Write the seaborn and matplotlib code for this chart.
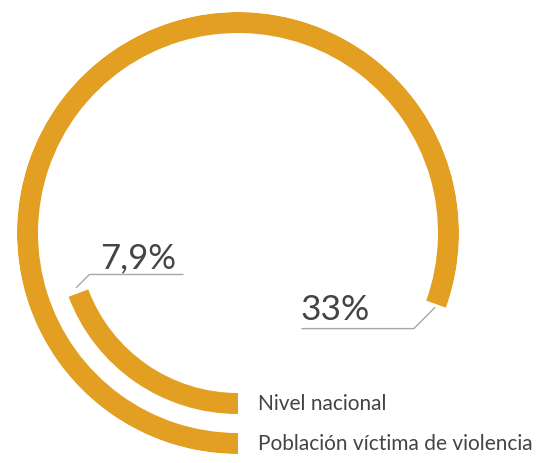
import numpy as np
import matplotlib.pyplot as plt
import seaborn as sns

# data
categories = ["Nivel nacional", "Población víctima de violencia"]
values = [7.9, 33]
value_labels = ["7,9%", "33%"]
scale_max = 41  # value that would close the full ring

sns.set_theme(style="white")
plt.rcParams['font.family'] = ['Lato', 'DejaVu Sans']

bar_color = "#E39F22"
text_color = "#444444"
line_color = "#a8a8a8"

W, H = 543, 463
fig = plt.figure(figsize=(W / 100, H / 100), dpi=100)
fig.patch.set_facecolor("white")

# ring centre and outer radius in pixels
cx, cy, R = 238, 233, 221
ax = fig.add_axes([(cx - R) / W, (H - cy - R) / H, 2 * R / W, 2 * R / H], projection='polar')
ax.set_theta_zero_location('S')
ax.set_theta_direction(-1)
ax.set_ylim(0, R)
radii = [170.5, 210.5]
thick = 21
angles = np.deg2rad(np.array(values) / scale_max * 360)
ax.barh(radii, angles, left=0, height=thick, color=bar_color, edgecolor='none')
ax.axis('off')

# overlay in pixel coordinates for labels and leader lines
ov = fig.add_axes([0, 0, 1, 1])
ov.set_xlim(0, W)
ov.set_ylim(H, 0)
ov.axis('off')
ov.patch.set_visible(False)


def to_px(theta, r):
    disp = ax.transData.transform((theta, r))
    return ov.transData.inverted().transform(disp)


# category labels next to the start of each ring
for cat, r in zip(categories, radii):
    x, y = to_px(0, r)
    ov.text(x + 20, y, cat, fontsize=15, color=text_color, va='center', ha='left')

# 7,9% leader
p = to_px(angles[0] + np.deg2rad(2), radii[0])
kink = (p[0] + 13, p[1] - 13)
ov.plot([p[0], kink[0], 183], [p[1], kink[1], kink[1]], color=line_color, lw=1)
ov.text(100, kink[1] - 6, value_labels[0], fontsize=25, color=text_color,
        va='baseline', ha='left')

# 33% leader
p = to_px(angles[1] + np.deg2rad(1), radii[1])
kink = (p[0] - 21, p[1] + 21)
ov.plot([p[0], kink[0], 302], [p[1], kink[1], kink[1]], color=line_color, lw=1)
ov.text(301, kink[1] - 9, value_labels[1], fontsize=25.5, color=text_color,
        va='baseline', ha='left')

fig.savefig("out.png", dpi=100)
